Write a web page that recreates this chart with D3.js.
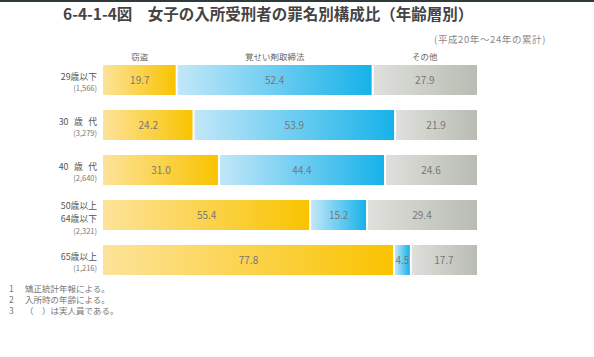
<!DOCTYPE html>
<html><head><meta charset="utf-8">
<script src="https://cdn.jsdelivr.net/npm/d3@7"></script>
<style>
html,body{margin:0;padding:0;background:#fff;}
svg{display:block;font-family:"Noto Sans CJK JP","Noto Sans",sans-serif;}
</style></head>
<body>
<svg id="c" width="594" height="357"></svg>
<script>
const title = "6-4-1-4図　女子の入所受刑者の罪名別構成比（年齢層別）";
const note = "(平成20年～24年の累計)";
const seriesNames = ["窃盗", "覚せい剤取締法", "その他"];
const ageLabels = [["29歳以下"], ["30 歳 代"], ["40 歳 代"], ["50歳以上", "64歳以下"], ["65歳以上"]];
const counts = ["(1,566)", "(3,279)", "(2,640)", "(2,321)", "(1,216)"];
const theft = [19.7, 24.2, 31.0, 55.4, 77.8];
const stimulant = [52.4, 53.9, 44.4, 15.2, 4.5];
const other = [27.9, 21.9, 24.6, 29.4, 17.7];
const footnotes = [["1", "矯正統計年報による。"], ["2", "入所時の年齢による。"], ["3", "（　）は実人員である。"]];

const svg = d3.select("#c");
const defs = svg.append("defs");
const grads = [["#fde39a", "#f9c300"], ["#c2e7f8", "#17b2ea"], ["#dfe0dc", "#b8bcb2"]];
grads.forEach((g, i) => {
  const lg = defs.append("linearGradient").attr("id", "g" + i).attr("x1", "0").attr("x2", "1").attr("y1", "0").attr("y2", "0");
  lg.append("stop").attr("offset", "0").attr("stop-color", g[0]);
  lg.append("stop").attr("offset", "1").attr("stop-color", g[1]);
});

svg.append("rect").attr("x", 0).attr("y", 0).attr("width", 594).attr("height", 2).attr("fill", "#2f3b3b");

svg.append("text").attr("x", 63).attr("y", 20).attr("font-size", 15.5).attr("font-weight", "bold")
  .attr("fill", "#444").text(title);
svg.append("text").attr("x", 546).attr("y", 43).attr("text-anchor", "end").attr("font-size", 9.5)
  .attr("letter-spacing", 0.6).attr("fill", "#888").text(note);

const x = d3.scaleLinear().domain([0, 100]).range([103, 477]);
const y = d3.scaleBand().domain(d3.range(5)).range([65, 275]).paddingInner(1 / 3).paddingOuter(0);

const series = [theft, stimulant, other];
const rows = d3.range(5).map(i => {
  let acc = 0;
  return series.map((s, k) => { const r = {k, i, v: s[i], x0: acc, x1: acc + s[i]}; acc += s[i]; return r; });
});

const g = svg.append("g");
rows.forEach(row => {
  row.forEach(d => {
    const left = d.k > 0 ? 1 : 0;
    const right = d.k < 2 ? 1 : 0;
    g.append("rect").attr("x", x(d.x0) + left).attr("y", y(d.i))
      .attr("width", Math.max(0, x(d.x1) - x(d.x0) - left - right))
      .attr("height", y.bandwidth()).attr("fill", `url(#g${d.k})`);
    g.append("text").attr("x", (x(d.x0) + x(d.x1)) / 2).attr("y", y(d.i) + y.bandwidth() / 2 + 3.5)
      .attr("text-anchor", "middle").attr("font-size", 10).attr("fill", "#777").text(d.v.toFixed(1));
  });
});

rows[0].forEach(d => {
  svg.append("text").attr("x", (x(d.x0) + x(d.x1)) / 2).attr("y", 60).attr("text-anchor", "middle")
    .attr("font-size", 8.5).attr("fill", "#666").text(seriesNames[d.k]);
});

const lh = 13;
ageLabels.forEach((lines, i) => {
  const cy = y(i) + y.bandwidth() / 2;
  const n = lines.length;
  const firstBase = n > 1 ? cy - 6 : cy - 0.5;
  lines.forEach((t, j) => {
    svg.append("text").attr("x", 97).attr("y", firstBase + j * lh)
      .attr("text-anchor", "end").attr("font-size", 8.8).attr("word-spacing", 3.5)
      .attr("fill", "#555").text(t);
  });
  svg.append("text").attr("x", 97).attr("y", firstBase + (n - 1) * lh + 11.5)
    .attr("text-anchor", "end").attr("font-size", 7.5).attr("fill", "#777").text(counts[i]);
});

footnotes.forEach((f, i) => {
  svg.append("text").attr("x", 9).attr("y", 292 + i * 11).attr("font-size", 8.5).attr("fill", "#777").text(f[0]);
  svg.append("text").attr("x", 25).attr("y", 292 + i * 11).attr("font-size", 8.5).attr("fill", "#777").text(f[1]);
});
</script>
</body></html>
